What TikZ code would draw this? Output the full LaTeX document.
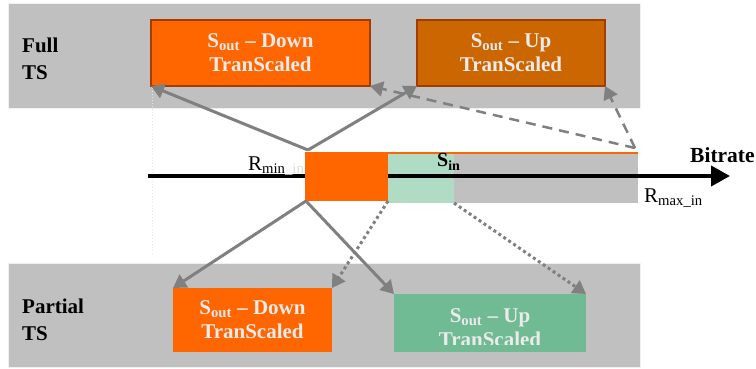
\documentclass[tikz,border=0pt]{standalone}
\usepackage{fontspec}
\setmainfont{Liberation Serif}
\usetikzlibrary{arrows.meta}
\definecolor{bandgray}{HTML}{C0C0C0}
\definecolor{outorange}{HTML}{FF6600}
\definecolor{outdark}{HTML}{CC6600}
\definecolor{edgebrown}{HTML}{A33C00}
\definecolor{upgreen}{HTML}{70BA94}
\definecolor{lightgreen}{HTML}{B0DCC6}
\definecolor{arrgray}{HTML}{808080}
\definecolor{txtwhite}{HTML}{EBEBEB}

\begin{document}
\begin{tikzpicture}[x=1pt,y=-1pt,
    band/.style={fill=bandgray, draw=gray!12, line width=1pt, anchor=north west,
      inner sep=0pt, outer sep=0pt},
    tsbox/.style={anchor=north west, inner sep=0pt, outer sep=0pt, text=txtwhite,
      align=center, font=\fontsize{21}{24}\selectfont\bfseries},
    side/.style={anchor=west, inner sep=0pt, align=left,
      font=\fontsize{21}{26.5}\selectfont\bfseries},
    barpart/.style={anchor=north west, inner sep=0pt, outer sep=0pt},
    solidarr/.style={draw=arrgray, line width=3pt, -{Triangle[length=13pt,width=15pt]}},
    dasharr/.style={solidarr, line width=2.5pt, dash pattern=on 10pt off 7pt},
    dotarr/.style={solidarr, dash pattern=on 3pt off 3pt}]
  \useasboundingbox (0,0) rectangle (756,369);
  \fill[white] (0,0) rectangle (756,369);

  % the two bands
  \node[band, minimum width=632, minimum height=105] (fullband) at (8,4) {};
  \node[band, minimum width=632, minimum height=104] (partband) at (8,263) {};
  \node[side] (fullts) at (22,59) {Full\\TS};
  \node[side] (partts) at (22,320) {Partial\\TS};

  % faint guide below the first box
  \coordinate (guideend) at (152,256);
  \draw[white!80!gray, dotted, line width=1pt] (152,88) -- (guideend);

  % output boxes
  \node[tsbox, fill=outorange, draw=edgebrown, line width=2pt,
    minimum width=219, minimum height=66] (fulldown) at (151,20)
    {S\textsubscript{out} – Down\\TranScaled};
  \node[tsbox, fill=outdark, draw=edgebrown, line width=2pt,
    minimum width=188, minimum height=66] (fullup) at (417,20)
    {S\textsubscript{out} – Up\\TranScaled};
  \node[tsbox, fill=outorange, minimum width=159, minimum height=64] (partdown) at (173,288)
    {S\textsubscript{out} – Down\\TranScaled};
  \node[tsbox, fill=upgreen, minimum width=192, minimum height=58] (partup) at (394,294) {};
  \begin{scope}
    \clip (394,294) rectangle (586,344);
    \node[tsbox, anchor=center] (partuptext) at (490,327.5)
      {S\textsubscript{out} – Up\\TranScaled};
  \end{scope}

  % input bar on the bitrate axis
  \node[barpart, fill=lightgreen, minimum width=66, minimum height=50] (sinmid) at (388,153) {};
  \node[barpart, fill=bandgray, minimum width=184, minimum height=50] (sinhigh) at (454,153) {};
  \coordinate (axstart) at (148,176);
  \coordinate (axend) at (730,176);
  \draw[line width=4pt, -{Triangle[length=19pt,width=20pt]}] (axstart) -- (axend);
  \node[barpart, fill=outorange, minimum width=83, minimum height=48] (sinlow) at (305,153) {};
  \draw[outorange, line width=1.5pt] (sinlow.north west) -- (sinhigh.north east);

  \node[anchor=base west, inner sep=0pt, font=\fontsize{21}{21}\selectfont] (rmin) at (248,170)
    {R\textsubscript{min\textcolor{white!72!gray}{\_in}}};
  \node[anchor=base west, inner sep=0pt, font=\fontsize{21}{21}\selectfont] (rmax) at (644,202)
    {R\textsubscript{max\_in}};
  \node[anchor=base west, inner sep=0pt, font=\fontsize{20}{20}\selectfont\bfseries] (sin) at (437,167)
    {S\textsubscript{in}};
  \node[anchor=base west, inner sep=0pt, font=\fontsize{21.5}{21.5}\selectfont\bfseries] (bitrate) at (690,162)
    {Bitrate};

  % connectors
  \coordinate (topfan) at (308,150);
  \coordinate (dashfan) at (635,148);
  \coordinate (botfan) at (306,201);
  \draw[solidarr] (topfan) -- (fulldown.south west);
  \draw[solidarr] (topfan) -- (fullup.south west);
  \draw[dasharr] (dashfan) -- (fulldown.south east);
  \draw[dasharr] (dashfan) -- (fullup.south east);
  \draw[solidarr] (botfan) -- (partdown.north west);
  \draw[solidarr] (botfan) -- (partup.north west);
  \draw[dotarr] (sinlow.south east) -- (partdown.north east);
  \draw[dotarr] (sinmid.south east) -- (partup.north east);
\end{tikzpicture}
\end{document}
